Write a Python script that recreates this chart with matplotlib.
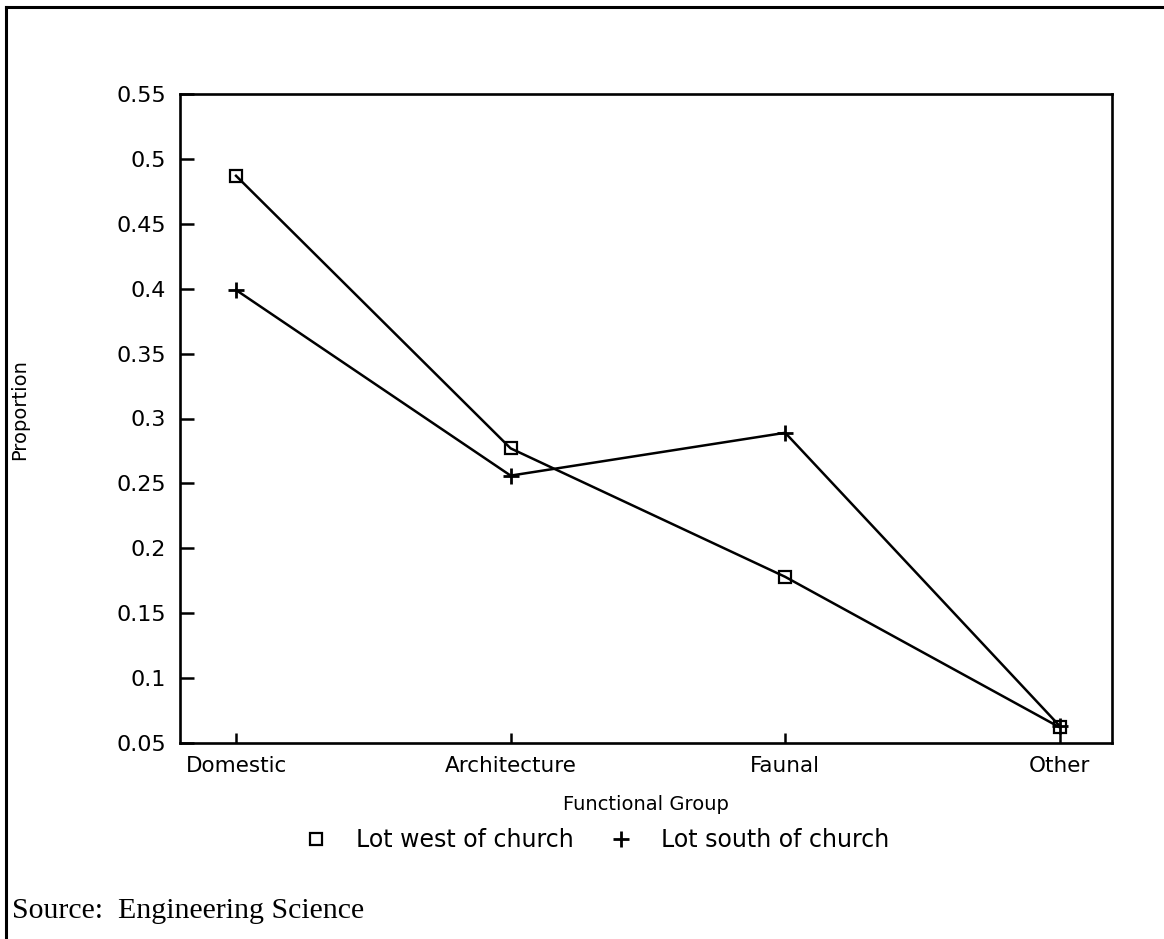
import matplotlib
matplotlib.use("Agg")
import matplotlib.pyplot as plt
from matplotlib.lines import Line2D

categories = ["Domestic", "Architecture", "Faunal", "Other"]
west = [0.487, 0.277, 0.178, 0.062]
south = [0.399, 0.256, 0.289, 0.063]
yticks = [0.05, 0.1, 0.15, 0.2, 0.25, 0.3, 0.35, 0.4, 0.45, 0.5, 0.55]
ytick_labels = ["0.05", "0.1", "0.15", "0.2", "0.25", "0.3", "0.35", "0.4", "0.45", "0.5", "0.55"]
series_labels = ["Lot west of church", "Lot south of church"]

plt.rcParams['font.family'] = ['DejaVu Sans']

fig = plt.figure(figsize=(11.64, 9.39), dpi=100)
ax = fig.add_axes([180/1164, 1-743/939, 932/1164, 649/939])

x = list(range(len(categories)))
ax.plot(x, west, color="black", lw=1.8, marker="s", markersize=9,
        markerfacecolor="none", markeredgecolor="black", markeredgewidth=1.6, zorder=3)
ax.plot(x, south, color="black", lw=1.8, marker="+", markersize=12,
        markeredgewidth=2, zorder=3)

ax.set_xlim(-0.204, 3.19)
ax.set_ylim(0.05, 0.55)
ax.set_yticks(yticks)
ax.set_yticklabels(ytick_labels)
ax.set_xticks(x)
ax.set_xticklabels(categories)

for s in ax.spines.values():
    s.set_linewidth(1.9)

ax.tick_params(axis="y", direction="in", length=10, width=1.8, pad=10, labelsize=16)
ax.tick_params(axis="x", direction="in", length=7, width=1.8, pad=9, labelsize=15.5)

ax.set_xlabel("Functional Group", fontsize=14, labelpad=14)
fig.text(20/1164, 1-410/939, "Proportion", rotation=90, fontsize=14,
         ha="center", va="center")

handles = [
    Line2D([], [], linestyle="none", marker="s", markersize=8, markerfacecolor="none",
           markeredgecolor="black", markeredgewidth=1.6),
    Line2D([], [], linestyle="none", marker="+", markersize=11, markeredgecolor="black",
           markeredgewidth=2),
]
fig.legend(handles, series_labels, loc="center", bbox_to_anchor=(597/1164, 1-840/939),
           ncol=2, frameon=False, fontsize=17, handlelength=1.0, handletextpad=1.2,
           columnspacing=1.5)

fig.text(12/1164, 1-911/939, "Source:  Engineering Science", fontsize=21.5,
         family="Liberation Serif", ha="left", va="center")

fig.add_artist(Line2D([6/1164, 6/1164], [0, 1-6.5/939], color="black", lw=2.2,
                      transform=fig.transFigure))
fig.add_artist(Line2D([6/1164, 1], [1-6.5/939, 1-6.5/939], color="black", lw=2.2,
                      transform=fig.transFigure))

fig.savefig("out.png", dpi=100)
